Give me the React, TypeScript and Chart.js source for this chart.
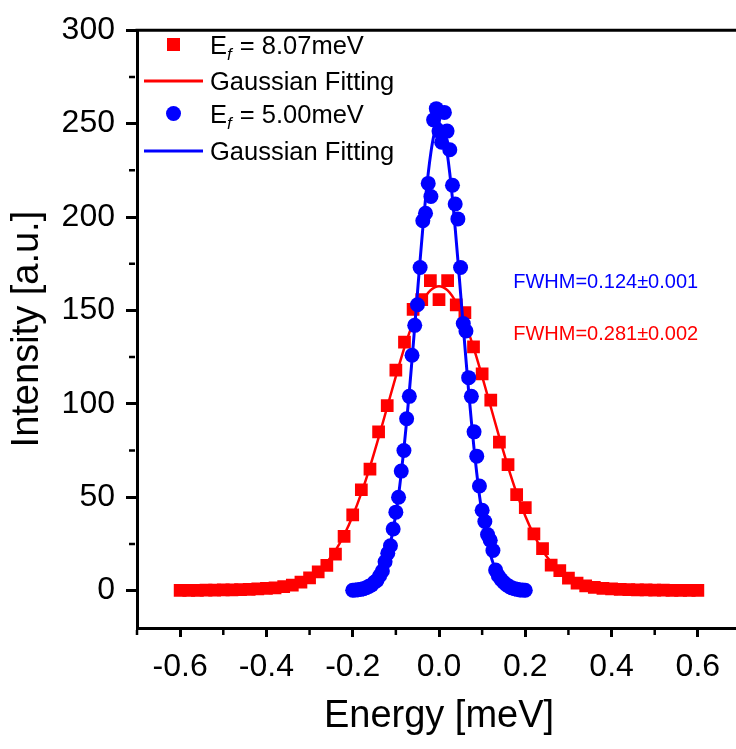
import React, { useEffect, useRef } from 'react';
import { Chart, registerables } from 'chart.js';

Chart.register(...registerables);

const FONT = "'Liberation Sans', Arial, Helvetica, sans-serif";

// ---- data: E_f = 8.07 meV (red squares) ----
const redEnergy = [
  -0.60, -0.58, -0.56, -0.54, -0.52, -0.50, -0.48, -0.46, -0.44, -0.42,
  -0.40, -0.38, -0.36, -0.34, -0.32, -0.30, -0.28, -0.26, -0.24, -0.22,
  -0.20, -0.18, -0.16, -0.14, -0.12, -0.10, -0.08, -0.06, -0.04, -0.02,
  0.00, 0.02, 0.04, 0.06, 0.08, 0.10, 0.12, 0.14, 0.16, 0.18,
  0.20, 0.22, 0.24, 0.26, 0.28, 0.30, 0.32, 0.34, 0.36, 0.38,
  0.40, 0.42, 0.44, 0.46, 0.48, 0.50, 0.52, 0.54, 0.56, 0.58, 0.60,
];
const redIntensity = [
  0.2, 0.2, 0.2, 0.3, 0.3, 0.4, 0.4, 0.5, 0.7, 0.9,
  1.2, 1.5, 2.2, 3.0, 4.5, 6.8, 10.0, 13.5, 19.5, 29.0,
  40.5, 54.0, 65.0, 85.0, 99.0, 118.0, 133.0, 150.5, 155.8, 166.0,
  155.8, 166.0, 153.0, 148.8, 130.5, 116.0, 102.0, 79.5, 67.5, 51.4,
  44.4, 30.4, 22.5, 13.7, 10.7, 6.7, 4.0, 2.5, 1.8, 1.2,
  0.9, 0.7, 0.5, 0.4, 0.4, 0.3, 0.3, 0.2, 0.2, 0.2, 0.2,
];
const redFitIntensity = [
  0.0, 0.0, 0.0, 0.0, 0.0, 0.0, 0.0, 0.1, 0.2, 0.3,
  0.6, 1.0, 1.7, 2.8, 4.5, 6.9, 10.4, 15.2, 21.5, 29.8,
  40.0, 52.2, 66.3, 81.9, 98.3, 114.7, 130.2, 143.6, 154.1, 160.7,
  163.0, 160.7, 154.1, 143.6, 130.2, 114.7, 98.3, 81.9, 66.3, 52.2,
  40.0, 29.8, 21.5, 15.2, 10.4, 6.9, 4.5, 2.8, 1.7, 1.0,
  0.6, 0.3, 0.2, 0.1, 0.0, 0.0, 0.0, 0.0, 0.0, 0.0, 0.0,
];

// ---- data: E_f = 5.00 meV (blue circles) ----
const blueEnergy = [
  -0.2, -0.19375, -0.1875, -0.18125, -0.175, -0.16875, -0.1625, -0.15625,
  -0.15, -0.14375, -0.1375, -0.13125, -0.125, -0.11875, -0.1125, -0.10625,
  -0.1, -0.09375, -0.0875, -0.08125, -0.075, -0.06875, -0.0625, -0.05625,
  -0.05, -0.04375, -0.0375, -0.03125, -0.025, -0.01875, -0.0125, -0.00625,
  0,
  0.00625, 0.0125, 0.01875, 0.025, 0.03125, 0.0375, 0.04375, 0.05,
  0.05625, 0.0625, 0.06875, 0.075, 0.08125, 0.0875, 0.09375, 0.1,
  0.10625, 0.1125, 0.11875, 0.125, 0.13125, 0.1375, 0.14375, 0.15,
  0.15625, 0.1625, 0.16875, 0.175, 0.18125, 0.1875, 0.19375, 0.2,
];
const blueIntensity = [
  0.2, 0.3, 0.5, 0.7, 1.0, 1.6, 2.3, 3.0,
  4.5, 5.5, 8.0, 10.5, 15.5, 20.0, 24.0, 33.0,
  42.0, 50.0, 64.0, 75.0, 92.0, 104.0, 126.0, 142.0,
  153.0, 173.0, 198.0, 202.0, 218.0, 211.0, 252.0, 258.0,
  246.0,
  240.0, 256.0, 246.0, 236.0, 217.0, 207.0, 199.0, 173.0,
  143.0, 139.0, 114.0, 104.0, 85.0, 72.0, 56.0, 43.0,
  37.0, 30.0, 27.0, 21.5, 11.0, 8.0, 6.0, 4.5,
  3.2, 2.2, 1.5, 1.0, 0.7, 0.4, 0.3, 0.2,
];
const blueFitIntensity = [
  0.2, 0.3, 0.4, 0.7, 1.0, 1.5, 2.1, 3.1,
  4.3, 6.0, 8.3, 11.2, 15.0, 19.7, 25.5, 32.7,
  41.2, 51.0, 62.9, 76.0, 90.7, 106.6, 123.6, 141.3,
  159.3, 177.1, 194.1, 209.7, 223.4, 234.6, 243.1, 248.2,
  250.0,
  248.2, 243.1, 234.6, 223.4, 209.7, 194.1, 177.1, 159.3,
  141.3, 123.6, 106.6, 90.7, 76.0, 62.9, 51.0, 41.2,
  32.7, 25.5, 19.7, 15.0, 11.2, 8.3, 6.0, 4.3,
  3.1, 2.1, 1.5, 1.0, 0.7, 0.4, 0.3, 0.2,
];

// ---- axes ----
const xMajorTicks = [-0.6, -0.4, -0.2, 0.0, 0.2, 0.4, 0.6];
const xMinorTicks = [-0.7, -0.5, -0.3, -0.1, 0.1, 0.3, 0.5, 0.7];
const yMajorTicks = [0, 50, 100, 150, 200, 250, 300];
const yMinorTicks = [25, 75, 125, 175, 225, 275];
const xAxisTitle = 'Energy [meV]';
const yAxisTitle = 'Intensity [a.u.]';

// ---- legend / annotations ----
const legendMain = ['E', 'Gaussian Fitting', 'E', 'Gaussian Fitting'];
const legendSub = ['f', '', 'f', ''];
const legendRest = [' = 8.07meV', '', ' = 5.00meV', ''];
const legendKinds = ['square', 'line', 'circle', 'line'];
const legendColors = ['#ff0000', '#ff0000', '#0000ff', '#0000ff'];
const fwhmLabels = ['FWHM=0.124\u00b10.001', 'FWHM=0.281\u00b10.002'];
const fwhmColors = ['#0000ff', '#ff0000'];
const fwhmAnchorX = [0.172, 0.172];
const fwhmAnchorY = [162, 134];

const RED = '#ff0000';
const BLUE = '#0000ff';

const pts = (xs: number[], ys: number[]) => xs.map((x, i) => ({ x, y: ys[i] }));

const decorPlugin = {
  id: 'decor',
  afterDraw(chart: any) {
    const ctx = chart.ctx as CanvasRenderingContext2D;
    const ca = chart.chartArea;
    const xs = chart.scales.x;
    const ys = chart.scales.y;
    ctx.save();
    // top frame line
    ctx.strokeStyle = '#000';
    ctx.lineWidth = 3;
    ctx.beginPath();
    ctx.moveTo(ca.left - 1.5, ca.top);
    ctx.lineTo(ca.right + 10, ca.top);
    ctx.stroke();
    // minor ticks
    ctx.lineWidth = 2.5;
    ctx.beginPath();
    xMinorTicks.forEach((v) => {
      const px = xs.getPixelForValue(v);
      ctx.moveTo(px, ca.bottom + 2);
      ctx.lineTo(px, ca.bottom + 7);
    });
    yMinorTicks.forEach((v) => {
      const py = ys.getPixelForValue(v);
      ctx.moveTo(ca.left - 2, py);
      ctx.lineTo(ca.left - 8, py);
    });
    ctx.stroke();

    // legend
    const rowCenters = [44.5, 81, 113.5, 151];
    const markerX = 173.5;
    const textX = 210;
    legendMain.forEach((main, i) => {
      const cy = rowCenters[i];
      const kind = legendKinds[i];
      ctx.fillStyle = legendColors[i];
      ctx.strokeStyle = legendColors[i];
      if (kind === 'square') {
        ctx.fillRect(markerX - 6.5, cy - 6.5, 13, 13);
      } else if (kind === 'circle') {
        ctx.beginPath();
        ctx.arc(markerX, cy, 7.5, 0, Math.PI * 2);
        ctx.fill();
      } else {
        ctx.lineWidth = 3;
        ctx.beginPath();
        ctx.moveTo(144, cy);
        ctx.lineTo(203, cy);
        ctx.stroke();
      }
      const base = cy + 9;
      ctx.fillStyle = '#000';
      ctx.textBaseline = 'alphabetic';
      ctx.textAlign = 'left';
      ctx.font = `25.5px ${FONT}`;
      let x = textX;
      ctx.fillText(main, x, base);
      x += ctx.measureText(main).width;
      if (legendSub[i]) {
        ctx.font = `italic 17px ${FONT}`;
        ctx.fillText(legendSub[i], x, base + 6);
        x += ctx.measureText(legendSub[i]).width + 1;
        ctx.font = `25.5px ${FONT}`;
        ctx.fillText(legendRest[i], x, base);
      }
    });

    // FWHM annotations
    ctx.font = `20px ${FONT}`;
    fwhmLabels.forEach((t, i) => {
      ctx.fillStyle = fwhmColors[i];
      ctx.fillText(t, xs.getPixelForValue(fwhmAnchorX[i]), ys.getPixelForValue(fwhmAnchorY[i]));
    });
    ctx.restore();
  },
};

export default function App() {
  const ref = useRef<HTMLCanvasElement | null>(null);
  useEffect(() => {
    if (!ref.current) return;
    const chart = new Chart(ref.current, {
      type: 'scatter',
      data: {
        datasets: [
          {
            label: 'Gaussian Fitting (5.00)',
            data: pts(blueEnergy, blueFitIntensity),
            showLine: true,
            borderColor: BLUE,
            borderWidth: 3,
            pointRadius: 0,
            cubicInterpolationMode: 'monotone',
            order: 0,
          },
          {
            label: 'E_f = 5.00meV',
            data: pts(blueEnergy, blueIntensity),
            showLine: false,
            pointStyle: 'circle',
            pointRadius: 7.5,
            backgroundColor: BLUE,
            borderColor: BLUE,
            borderWidth: 0,
            order: 1,
          },
          {
            label: 'Gaussian Fitting (8.07)',
            data: pts(redEnergy, redFitIntensity),
            showLine: true,
            borderColor: RED,
            borderWidth: 2.5,
            pointRadius: 0,
            cubicInterpolationMode: 'monotone',
            order: 2,
          },
          {
            label: 'E_f = 8.07meV',
            data: pts(redEnergy, redIntensity),
            showLine: false,
            pointStyle: 'rect',
            pointRadius: 9,
            backgroundColor: RED,
            borderColor: RED,
            borderWidth: 0,
            order: 3,
          },
        ],
      } as any,
      options: {
        animation: false,
        responsive: false,
        devicePixelRatio: 1,
        layout: { padding: { left: 0, top: 21, right: 8.4, bottom: 0 } },
        plugins: {
          legend: { display: false },
          tooltip: { enabled: false },
        },
        scales: {
          x: {
            type: 'linear',
            min: -0.7,
            max: 0.7,
            afterBuildTicks: (s: any) => {
              s.ticks = xMajorTicks.map((v) => ({ value: v }));
            },
            afterFit: (s: any) => {
              s.height = 121;
            },
            grid: {
              display: true,
              drawOnChartArea: false,
              drawTicks: true,
              tickLength: 9,
              tickWidth: 3,
              tickColor: '#000',
            },
            border: { display: true, color: '#000', width: 3 },
            ticks: {
              color: '#000',
              font: { family: FONT, size: 32 },
              padding: 11,
              maxRotation: 0,
              callback: (v: any) => (Math.abs(Number(v)) < 1e-9 ? '0.0' : Number(v).toFixed(1)),
            },
            title: {
              display: true,
              text: xAxisTitle,
              color: '#000',
              font: { family: FONT, size: 38 },
              padding: { top: 0, bottom: 10 },
            },
          },
          y: {
            type: 'linear',
            min: -20,
            max: 300,
            afterBuildTicks: (s: any) => {
              s.ticks = yMajorTicks.map((v) => ({ value: v }));
            },
            afterFit: (s: any) => {
              s.width = 137;
            },
            grid: {
              display: true,
              drawOnChartArea: false,
              drawTicks: true,
              tickLength: 11,
              tickWidth: 3,
              tickColor: '#000',
            },
            border: { display: true, color: '#000', width: 3 },
            ticks: {
              color: '#000',
              font: { family: FONT, size: 32 },
              padding: 11,
              callback: (v: any) => String(v),
            },
            title: {
              display: true,
              text: yAxisTitle,
              color: '#000',
              font: { family: FONT, size: 38 },
              padding: { top: 5, bottom: 0 },
            },
          },
        },
      } as any,
      plugins: [decorPlugin],
    });
    return () => chart.destroy();
  }, []);

  return (
    <div style={{ position: 'absolute', left: 0, top: 0, width: 736, height: 749, overflow: 'hidden', background: '#fff' }}>
      <canvas ref={ref} width={750} height={749} style={{ width: 750, height: 749, display: 'block' }} />
    </div>
  );
}
